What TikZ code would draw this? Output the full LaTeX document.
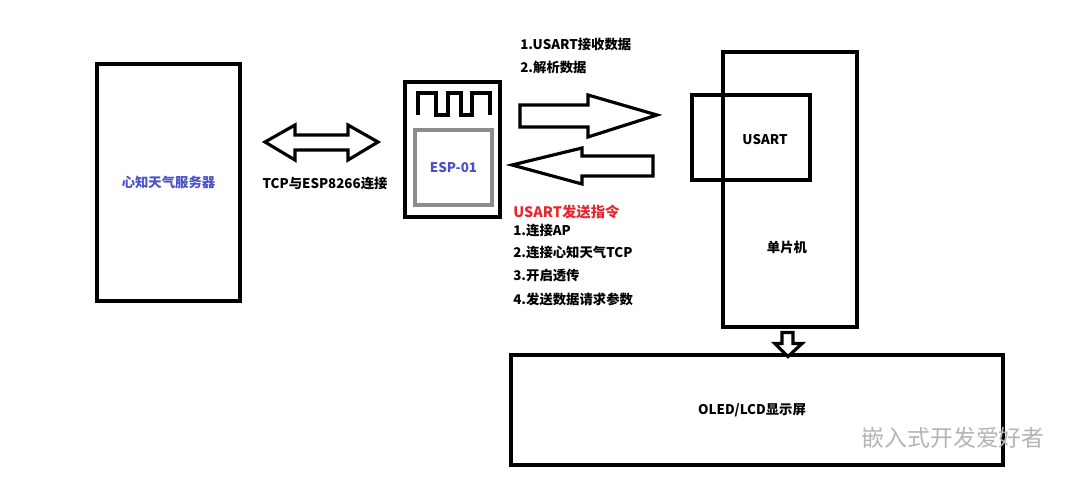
\documentclass[tikz,border=0pt]{standalone}
\usepackage{fontspec}
\usetikzlibrary{calc}
\newfontfamily\cjk{Noto Sans CJK SC}
\definecolor{xblau}{HTML}{4B52C6}
\definecolor{xrot}{HTML}{E8262E}
\definecolor{xgrau}{HTML}{8C8C8C}
\definecolor{xwz}{HTML}{B4B4B4}
\tikzset{
  kasten/.style={draw=black,line width=1.8pt,inner sep=0pt},
  pfeil/.style={draw=black,line width=1.8pt,fill=white,line join=miter},
  welle/.style={draw=black,line width=1.8pt,line join=miter},
  txt/.style={font=\cjk\bfseries\fontsize{7.6}{9}\selectfont,inner sep=0pt},
  liste/.style={txt,anchor=west},
}
\begin{document}
\begin{tikzpicture}[x=0.02cm,y=-0.02cm]
  \useasboundingbox[fill=white] (0,0) rectangle (1080,486);
  % --- Kaesten ---
  \node[kasten,minimum width=2.86cm,minimum height=4.74cm] (server) at (168.5,182.5) {};
  \node[txt,xblau] (servertxt) at (server.center) {心知天气服务器};
  \node[kasten,minimum width=1.9cm,minimum height=2.7cm] (esp) at (452.5,149.5) {};
  \node[kasten,draw=xgrau,minimum width=1.54cm,minimum height=1.5cm] (espkern) at (453.5,167.5) {};
  \node[txt,xblau] (esptxt) at (espkern.center) {ESP-01};
  \node[kasten,minimum width=2.68cm,minimum height=5.5cm] (mcu) at (790,189.5) {};
  \node[kasten,minimum width=2.36cm,minimum height=1.7cm] (usart) at (751,137.5) {};
  \node[txt] (usarttxt) at (765,140) {USART};
  \node[txt] (mcutxt) at (787,247) {单片机};
  \node[kasten,minimum width=9.84cm,minimum height=2.2cm] (oled) at (757,410) {};
  \node[txt] (oledtxt) at (752,410) {OLED/LCD显示屏};
  % --- Antenne ---
  \draw[welle] (418,115)--(418,93)--(436,93)--(436,115)--(448,115)--(448,93)
    --(461,93)--(461,115)--(472,115)--(472,93)--(490,93)--(490,115);
  % --- Blockpfeile ---
  \draw[pfeil] (265,142)--(295,125)--(295,135)--(348,135)--(348,125)--(378,142)
    --(348,160)--(348,150)--(295,150)--(295,160)--cycle;
  \draw[pfeil] (520,105)--(588,105)--(588,95)--(657,115)--(588,137)--(588,127)
    --(520,127)--cycle;
  \draw[pfeil] (653,156)--(582,156)--(582,148)--(512,165)--(582,184)--(582,176)
    --(653,176)--cycle;
  \draw[pfeil] ($(mcu.south)+(-8,4)$)--($(mcu.south)+(3,4)$)--($(mcu.south)+(3,15)$)
    --($(mcu.south)+(12,15)$)--($(mcu.south)+(-2,28)$)--($(mcu.south)+(-15,15)$)
    --($(mcu.south)+(-8,15)$)--cycle;
  % --- Beschriftungen ---
  \node[txt] (tcp) at (325,184) {TCP与ESP8266连接};
  \node[liste] (rx1) at (520,44) {1.USART接收数据};
  \node[liste] (rx2) at (520,67) {2.解析数据};
  \node[liste,xrot,font=\cjk\bfseries\fontsize{8.2}{9}\selectfont] (tx) at (513,212) {USART发送指令};
  \node[liste] (tx1) at (513,231) {1.连接AP};
  \node[liste] (tx2) at (513,253) {2.连接心知天气TCP};
  \node[liste] (tx3) at (513,276) {3.开启透传};
  \node[liste] (tx4) at (513,299) {4.发送数据请求参数};
  \node[anchor=east,inner sep=0pt,xwz,font=\cjk\fontsize{13}{15}\selectfont] (wz) at (1045,438) {嵌入式开发爱好者};
\end{tikzpicture}
\end{document}
